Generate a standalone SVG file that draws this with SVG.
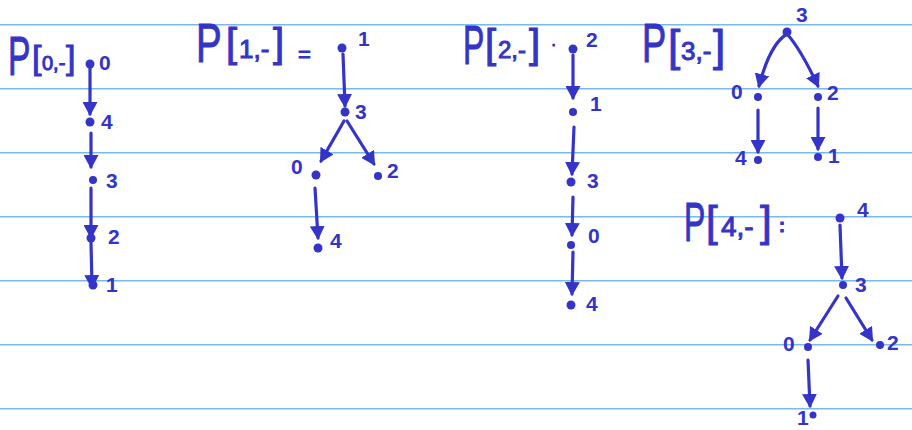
<svg xmlns="http://www.w3.org/2000/svg" width="912" height="430" viewBox="0 0 912 430">
<defs>
<marker id="ah" markerUnits="userSpaceOnUse" markerWidth="15" markerHeight="15" refX="12" refY="7.5" orient="auto">
<path d="M0,0 L14,7.5 L0,15 z" fill="#3434c8"/>
</marker>
<style>
.rule{stroke:#78b8f4;stroke-width:1.6}
.e{stroke:#3434c8;stroke-width:3.2;fill:none;stroke-linecap:round;marker-end:url(#ah)}
.d{fill:#3434c8}
.l{fill:#3434c8;font-family:"Liberation Sans",Arial,sans-serif;font-size:21px;font-weight:bold}
.t{fill:#3434c8;stroke:#3434c8;stroke-width:1;font-family:"Liberation Sans",Arial,sans-serif}
</style>
</defs>
<rect width="912" height="430" fill="#ffffff"/>
<g id="rules">
<line class="rule" x1="0" y1="24.7" x2="912" y2="24.7"/>
<line class="rule" x1="0" y1="88.7" x2="912" y2="88.7"/>
<line class="rule" x1="0" y1="152.7" x2="912" y2="152.7"/>
<line class="rule" x1="0" y1="216.7" x2="912" y2="216.7"/>
<line class="rule" x1="0" y1="280.7" x2="912" y2="280.7"/>
<line class="rule" x1="0" y1="344.7" x2="912" y2="344.7"/>
<line class="rule" x1="0" y1="408.7" x2="912" y2="408.7"/>
</g>
<g id="title-0">
<text class="t" font-size="56" transform="translate(8,75) scale(0.6,1)">P</text>
<text class="t" x="32" y="69" font-size="34">[</text>
<text class="t" x="42" y="70" font-size="20">0,-</text>
<text class="t" x="66" y="69" font-size="34">]</text>
</g>
<g id="title-1">
<text class="t" font-size="55" transform="translate(196,62) scale(0.7,1)">P</text>
<text class="t" x="226" y="57" font-size="40">[</text>
<text class="t" x="239" y="58" font-size="26">1,-</text>
<text class="t" x="273" y="57" font-size="40">]</text>
<text class="t" x="298" y="62" font-size="22">=</text>
</g>
<g id="title-2">
<text class="t" font-size="55" transform="translate(463,64) scale(0.58,1)">P</text>
<text class="t" x="485" y="58" font-size="40">[</text>
<text class="t" x="498" y="58" font-size="24">2,-</text>
<text class="t" x="529" y="58" font-size="40">]</text>
<text class="t" x="551" y="50" font-size="16">·</text>
</g>
<g id="title-3">
<text class="t" font-size="55" transform="translate(642,62) scale(0.66,1)">P</text>
<text class="t" x="668" y="61" font-size="44">[</text>
<text class="t" x="681" y="60" font-size="26">3,-</text>
<text class="t" x="713" y="61" font-size="44">]</text>
</g>
<g id="title-4">
<text class="t" font-size="55" transform="translate(684,241) scale(0.58,1)">P</text>
<text class="t" x="706" y="236" font-size="42">[</text>
<text class="t" x="721" y="236" font-size="28">4,-</text>
<text class="t" x="760" y="236" font-size="42">]</text>
<text class="t" x="779" y="232" font-size="18" font-weight="bold">:</text>
</g>
<g id="connectors">
<path class="e" d="M90,68 L90,114"/>
<path class="e" d="M91,133 L91,167"/>
<path class="e" d="M91,188 L91,237"/>
<path class="e" d="M91,242 L92,287"/>
<path class="e" d="M343,54 L345,106"/>
<path class="e" d="M344,121 L321,161"/>
<path class="e" d="M347,121 L374,164"/>
<path class="e" d="M315,188 L318,238"/>
<path class="e" d="M573,55 L573,98"/>
<path class="e" d="M574,127 L572,174"/>
<path class="e" d="M573,197 L572,235"/>
<path class="e" d="M573,252 L572,294"/>
<path class="e" d="M787,34 Q770,44 759,86"/>
<path class="e" d="M787,34 Q800,48 818,86"/>
<path class="e" d="M758,110 L758,152"/>
<path class="e" d="M818,108 L818,149"/>
<path class="e" d="M840,225 L842,278"/>
<path class="e" d="M838,296 L810,340"/>
<path class="e" d="M846,298 L872,340"/>
<path class="e" d="M808,360 L810,406"/>
</g>
<g id="p0-n0"><circle class="d" cx="90" cy="64" r="4.5"/><text class="l" x="99" y="70">0</text></g>
<g id="p0-n4"><circle class="d" cx="90" cy="122" r="4.5"/><text class="l" x="101" y="129">4</text></g>
<g id="p0-n3"><circle class="d" cx="93" cy="180" r="4"/><text class="l" x="106" y="188">3</text></g>
<g id="p0-n2"><circle class="d" cx="91" cy="238" r="4.5"/><text class="l" x="108" y="244">2</text></g>
<g id="p0-n1"><circle class="d" cx="93" cy="285" r="4.5"/><text class="l" x="106" y="292">1</text></g>
<g id="p1-n1"><circle class="d" cx="342" cy="48" r="4.5"/><text class="l" x="358" y="46">1</text></g>
<g id="p1-n3"><circle class="d" cx="345" cy="112" r="4.5"/><text class="l" x="355" y="119">3</text></g>
<g id="p1-n0"><circle class="d" cx="316" cy="175" r="4.5"/><text class="l" x="291" y="174">0</text></g>
<g id="p1-n2"><circle class="d" cx="378" cy="176" r="4"/><text class="l" x="387" y="178">2</text></g>
<g id="p1-n4"><circle class="d" cx="318" cy="248" r="4.5"/><text class="l" x="330" y="248">4</text></g>
<g id="p2-n2"><circle class="d" cx="573" cy="49" r="4.5"/><text class="l" x="586" y="47">2</text></g>
<g id="p2-n1"><circle class="d" cx="573" cy="112" r="4"/><text class="l" x="590" y="111">1</text></g>
<g id="p2-n3"><circle class="d" cx="571" cy="182" r="4.5"/><text class="l" x="587" y="188">3</text></g>
<g id="p2-n0"><circle class="d" cx="571" cy="245" r="4"/><text class="l" x="588" y="243">0</text></g>
<g id="p2-n4"><circle class="d" cx="571" cy="305" r="4.5"/><text class="l" x="586" y="311">4</text></g>
<g id="p3-n3"><circle class="d" cx="787" cy="32" r="4.5"/><text class="l" x="796" y="22">3</text></g>
<g id="p3-n0"><circle class="d" cx="758" cy="97" r="4"/><text class="l" x="731" y="99">0</text></g>
<g id="p3-n2"><circle class="d" cx="818" cy="97" r="4"/><text class="l" x="827" y="100">2</text></g>
<g id="p3-n4"><circle class="d" cx="758" cy="160" r="4"/><text class="l" x="735" y="165">4</text></g>
<g id="p3-n1"><circle class="d" cx="818" cy="157" r="4"/><text class="l" x="828" y="163">1</text></g>
<g id="p4-n4"><circle class="d" cx="840" cy="218" r="4.5"/><text class="l" x="857" y="217">4</text></g>
<g id="p4-n3"><circle class="d" cx="843" cy="285" r="4"/><text class="l" x="855" y="292">3</text></g>
<g id="p4-n0"><circle class="d" cx="808" cy="347" r="4"/><text class="l" x="783" y="351">0</text></g>
<g id="p4-n2"><circle class="d" cx="880" cy="345" r="4"/><text class="l" x="887" y="350">2</text></g>
<g id="p4-n1"><circle class="d" cx="813" cy="415" r="3.5"/><text class="l" x="797" y="425" font-size="18">1</text></g>
</svg>
